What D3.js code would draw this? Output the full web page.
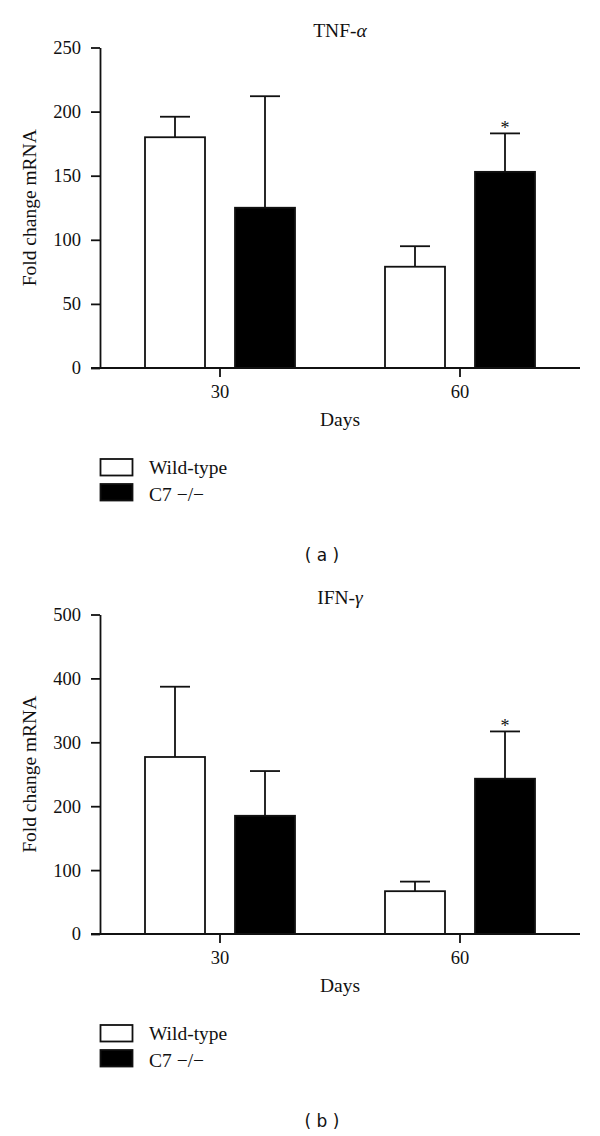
<!DOCTYPE html>
<html>
<head>
<meta charset="utf-8">
<script src="https://cdn.jsdelivr.net/npm/d3@7"></script>
<style>
  html, body { margin: 0; padding: 0; background: #fff; }
  svg { display: block; }
</style>
</head>
<body>
<svg id="chart" width="600" height="1136"></svg>
<script>
// ---- data ----
const days = ["30", "60"];
const groups = ["Wild-type", "C7 −/−"];

const tnfWildType = [180, 79];
const tnfWildTypeErr = [16, 16];
const tnfC7 = [125, 153];
const tnfC7Err = [87, 30];
const tnfC7Significant = [false, true];
const tnfTicks = [0, 50, 100, 150, 200, 250];

const ifnWildType = [277, 67];
const ifnWildTypeErr = [110, 15];
const ifnC7 = [185, 243];
const ifnC7Err = [70, 74];
const ifnC7Significant = [false, true];
const ifnTicks = [0, 100, 200, 300, 400, 500];

const panelLabels = ["( a )", "( b )"];

// ---- drawing ----
const svg = d3.select("#chart");
const SERIF = "'Liberation Serif', 'Times New Roman', serif";
const SANS = "'DejaVu Sans', Verdana, sans-serif";
const ink = "#111";

function drawPanel(opt) {
  const g = svg.append("g");
  const top = opt.top, bottom = opt.bottom;
  const left = 100, right = 580;

  const x0 = d3.scaleBand().domain(days).range([left, right]);
  const x1 = d3.scaleBand().domain(groups)
    .range([(x0.bandwidth() - 150) / 2, (x0.bandwidth() + 150) / 2])
    .paddingInner(1 / 3);
  const y = d3.scaleLinear().domain([0, d3.max(opt.ticks)]).range([bottom, top]);

  const rows = [];
  days.forEach((d, i) => {
    rows.push({ day: d, grp: groups[0], v: opt.wt[i], e: opt.wtErr[i], sig: false });
    rows.push({ day: d, grp: groups[1], v: opt.c7[i], e: opt.c7Err[i], sig: opt.sig[i] });
  });

  // error bars (behind bars)
  const bw = x1.bandwidth();
  rows.forEach(r => {
    const cx = x0(r.day) + x1(r.grp) + bw / 2;
    g.append("line").attr("x1", cx).attr("x2", cx)
      .attr("y1", y(r.v)).attr("y2", y(r.v + r.e))
      .attr("stroke", ink).attr("stroke-width", 1.8);
    g.append("line").attr("x1", cx - bw / 4).attr("x2", cx + bw / 4)
      .attr("y1", y(r.v + r.e)).attr("y2", y(r.v + r.e))
      .attr("stroke", ink).attr("stroke-width", 1.8);
    if (r.sig) {
      g.append("text").attr("x", cx).attr("y", y(r.v + r.e) + 1)
        .attr("text-anchor", "middle")
        .attr("font-family", SERIF).attr("font-size", 18)
        .attr("fill", ink).text("*");
    }
  });

  // bars
  g.selectAll("rect.bar").data(rows).enter().append("rect")
    .attr("class", "bar")
    .attr("x", r => x0(r.day) + x1(r.grp))
    .attr("y", r => y(r.v))
    .attr("width", bw)
    .attr("height", r => y(0) - y(r.v))
    .attr("fill", r => r.grp === groups[0] ? "#fff" : "#000")
    .attr("stroke", ink).attr("stroke-width", 1.8);

  // y axis
  const ya = g.append("g").attr("transform", `translate(${left},0)`)
    .call(d3.axisLeft(y).tickValues(opt.ticks).tickSize(9).tickPadding(10).tickSizeOuter(0));
  ya.attr("font-family", SERIF);
  ya.select(".domain").attr("stroke", ink).attr("stroke-width", 1.8);
  ya.selectAll(".tick line").attr("stroke", ink).attr("stroke-width", 1.8);
  ya.selectAll(".tick text").attr("font-family", SERIF).attr("font-size", 18.5).attr("fill", ink);

  // x axis
  const xa = g.append("g").attr("transform", `translate(0,${bottom})`)
    .call(d3.axisBottom(x0).tickSize(9).tickPadding(8).tickSizeOuter(0));
  xa.attr("font-family", SERIF);
  xa.select(".domain").attr("d", `M${left - 9},0H${right}`)
    .attr("stroke", ink).attr("stroke-width", 1.8);
  xa.selectAll(".tick line").attr("stroke", ink).attr("stroke-width", 1.8);
  xa.selectAll(".tick text").attr("font-family", SERIF).attr("font-size", 18.5).attr("fill", ink);

  // title
  const t = g.append("text").attr("x", (left + right) / 2).attr("y", top - 11)
    .attr("text-anchor", "middle").attr("font-family", SERIF).attr("font-size", 19.5).attr("fill", ink);
  t.append("tspan").text(opt.titleMain);
  t.append("tspan").attr("font-style", "italic").text(opt.titleGreek);

  // axis titles
  g.append("text").attr("transform", `translate(36,${(top + bottom) / 2}) rotate(-90)`)
    .attr("text-anchor", "middle").attr("font-family", SERIF).attr("font-size", 19.5).attr("fill", ink)
    .text("Fold change mRNA");
  g.append("text").attr("x", (left + right) / 2).attr("y", bottom + 58)
    .attr("text-anchor", "middle").attr("font-family", SERIF).attr("font-size", 19.5).attr("fill", ink)
    .text("Days");

  // legend
  const lg = g.append("g").attr("transform", `translate(${left},${bottom + 91})`);
  groups.forEach((name, i) => {
    lg.append("rect").attr("x", 0.5).attr("y", i * 25).attr("width", 32).attr("height", 16.5)
      .attr("fill", i === 0 ? "#fff" : "#000").attr("stroke", ink).attr("stroke-width", 1.8);
    lg.append("text").attr("x", 49).attr("y", i * 26.5 + 15)
      .attr("font-family", SERIF).attr("font-size", 19.5).attr("fill", ink).text(name);
  });

  // panel label
  g.append("text").attr("x", 322).attr("y", bottom + 193)
    .attr("text-anchor", "middle").attr("font-family", SANS).attr("font-size", 17).attr("fill", ink)
    .attr("xml:space", "preserve").style("white-space", "pre")
    .text(opt.panel);
}

drawPanel({
  top: 47.5, bottom: 368, ticks: tnfTicks,
  wt: tnfWildType, wtErr: tnfWildTypeErr, c7: tnfC7, c7Err: tnfC7Err, sig: tnfC7Significant,
  titleMain: "TNF-", titleGreek: "α", panel: panelLabels[0]
});
drawPanel({
  top: 614.5, bottom: 934, ticks: ifnTicks,
  wt: ifnWildType, wtErr: ifnWildTypeErr, c7: ifnC7, c7Err: ifnC7Err, sig: ifnC7Significant,
  titleMain: "IFN-", titleGreek: "γ", panel: panelLabels[1]
});
</script>
</body>
</html>
